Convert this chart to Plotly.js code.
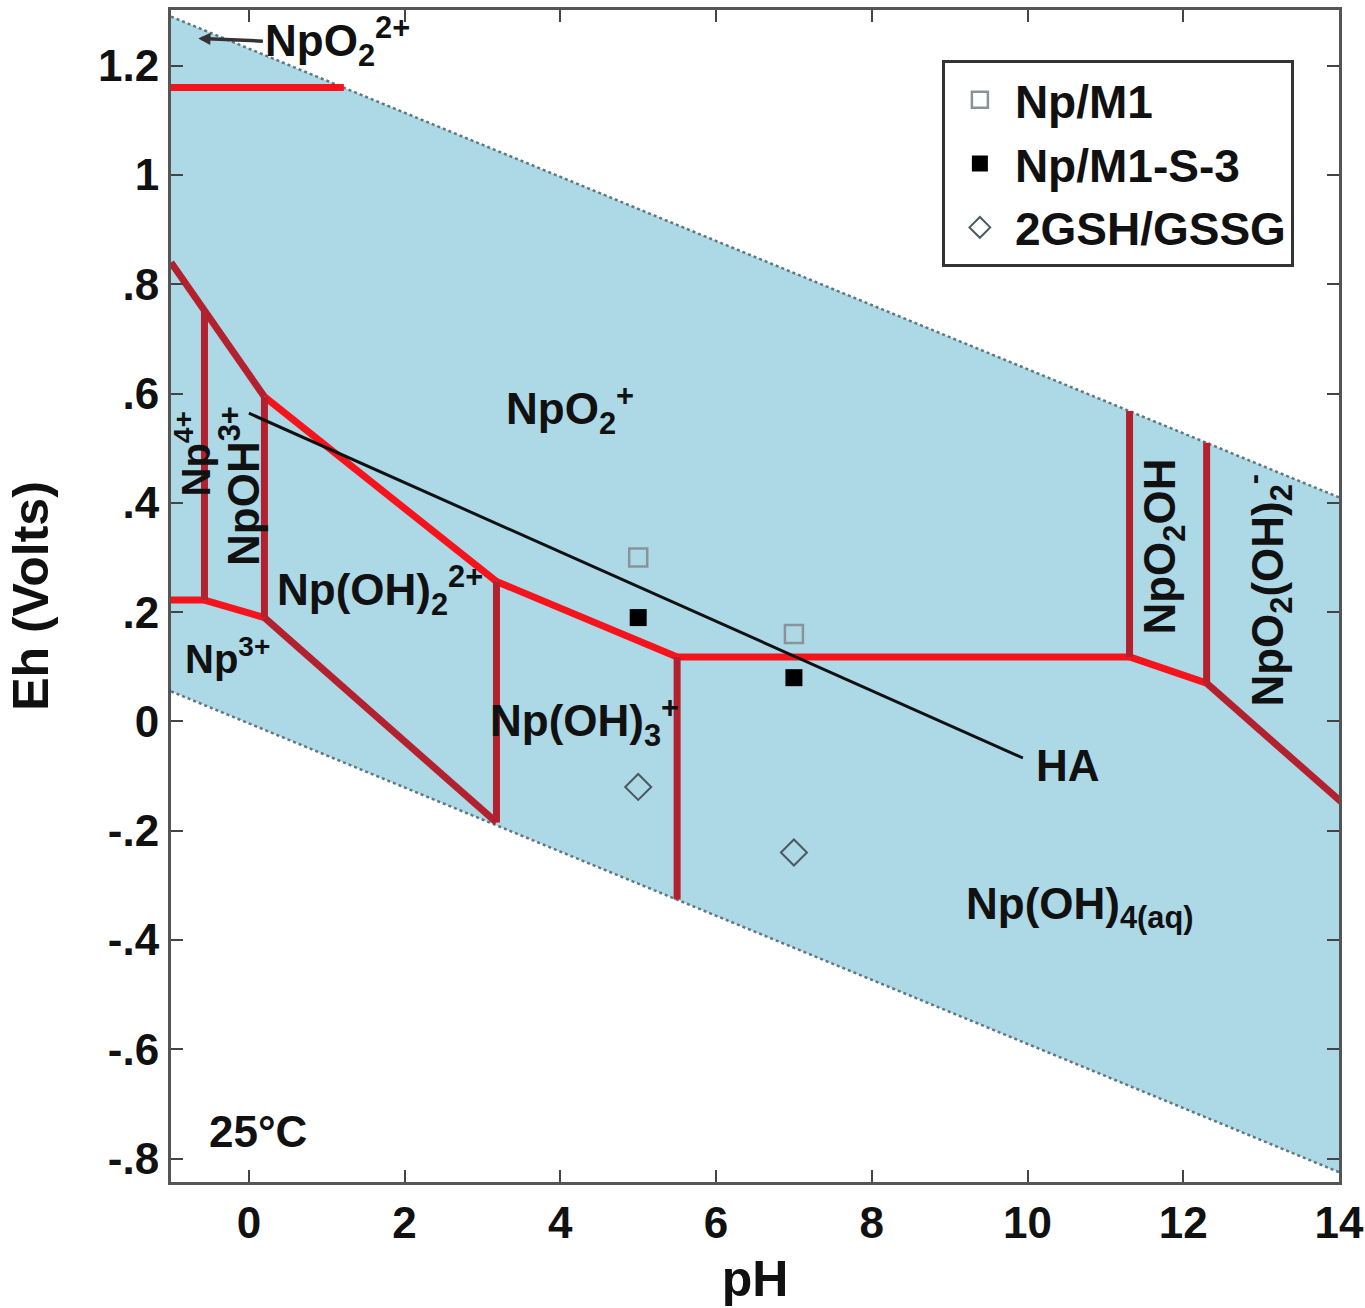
<!DOCTYPE html>
<html>
<head>
<meta charset="utf-8">
<script src="https://cdn.plot.ly/plotly-3.0.1.min.js"></script>
<style>html,body{margin:0;padding:0;background:#fff;}</style>
</head>
<body>
<div id="chart" style="width:1365px;height:1308px;"></div>
<script>
// ---- Data ----
// Water stability limits
const pHWater = [-1, 14];
const waterUpper = [1.29, 0.41];
const waterLower = [0.055, -0.825];

// Red predominance boundaries
const topPH = [-1, 1.22];
const topEh = [1.16, 1.16];
const upperPH = [-1, 0.2, 3.18, 5.5, 11.31, 12.3, 14.05];
const upperEh = [0.84, 0.594, 0.256, 0.118, 0.118, 0.07, -0.15];
const lowerPH = [-1, -0.57, 0.2, 3.18];
const lowerEh = [0.222, 0.222, 0.19, -0.185];
const vertPH = [-0.57, 0.2, 3.18, 5.5, 11.31, 12.3];
const vertBottom = [0.222, 0.19, -0.185, -0.326, 0.118, 0.07];
const vertTop = [0.752, 0.594, 0.256, 0.118, 0.568, 0.51];

// Humic acid (HA) line
const haPH = [0.0, 9.94];
const haEh = [0.564, -0.067];

// Measured samples
const samplePH = [5, 7];
const npM1 = [0.30, 0.16];
const npM1S3 = [0.19, 0.08];
const gshGssg = [-0.12, -0.24];
const seriesNames = ['Np/M1', 'Np/M1-S-3', '2GSH/GSSG'];

// Axis ticks
const xTicks = [0, 2, 4, 6, 8, 10, 12, 14];
const yTicks = [-0.8, -0.6, -0.4, -0.2, 0, 0.2, 0.4, 0.6, 0.8, 1.0, 1.2];
const yTickText = ['-.8', '-.6', '-.4', '-.2', '0', '.2', '.4', '.6', '.8', '1', '1.2'];

// ---- Styles ----
const BRIGHT = '#f5141c';
const DARK = '#b3212e';
const FONT = 'Liberation Sans, Arial, Helvetica, sans-serif';
const upperSegColors = [DARK, BRIGHT, BRIGHT, BRIGHT, BRIGHT, DARK];
const lowerSegColors = [BRIGHT, BRIGHT, DARK];

const traces = [];

// water region
traces.push({x: pHWater, y: waterLower, mode: 'lines', line: {color: '#5f7880', width: 2.5, dash: '3px,3px'}, showlegend: false, hoverinfo: 'skip'});
traces.push({x: pHWater, y: waterUpper, mode: 'lines', fill: 'tonexty', fillcolor: '#add8e6', line: {color: '#5f7880', width: 2.5, dash: '3px,3px'}, showlegend: false, hoverinfo: 'skip'});

function seg(xs, ys, color) {
  traces.push({x: xs, y: ys, mode: 'lines', line: {color: color, width: 7}, showlegend: false, hoverinfo: 'skip'});
}
seg(topPH, topEh, BRIGHT);
for (let i = 0; i < upperPH.length - 1; i++) seg([upperPH[i], upperPH[i+1]], [upperEh[i], upperEh[i+1]], upperSegColors[i]);
for (let i = 0; i < lowerPH.length - 1; i++) seg([lowerPH[i], lowerPH[i+1]], [lowerEh[i], lowerEh[i+1]], lowerSegColors[i]);
for (let i = 0; i < vertPH.length; i++) seg([vertPH[i], vertPH[i]], [vertBottom[i], vertTop[i]], DARK);

// HA line
traces.push({x: haPH, y: haEh, mode: 'lines', line: {color: '#111', width: 3}, showlegend: false, hoverinfo: 'skip'});

// samples
traces.push({x: samplePH, y: npM1, mode: 'markers', name: seriesNames[0], legendgroup: 'a',
  marker: {symbol: 'square-open', size: 18, color: '#8a9498', line: {width: 2.5, color: '#8a9498'}}});
traces.push({x: samplePH, y: npM1S3, mode: 'markers', name: seriesNames[1], legendgroup: 'b',
  marker: {symbol: 'square', size: 17, color: '#000'}});
traces.push({x: samplePH, y: gshGssg, mode: 'markers', name: seriesNames[2], legendgroup: 'c',
  marker: {symbol: 'diamond-open', size: 20, color: '#4a5a60', line: {width: 2, color: '#4a5a60'}}});

const lab = {family: FONT, size: 44, color: '#111', weight: 'bold'};
function ann(text, x, y, extra) {
  return Object.assign({text: text, x: x, y: y, xref: 'x', yref: 'y', showarrow: false, font: lab}, extra || {});
}
const annotations = [
  ann('NpO<sub>2</sub><sup>2+</sup>', -0.65, 1.25, {showarrow: true, ax: 0.18, ay: 1.245, axref: 'x', ayref: 'y', xanchor: 'left', arrowhead: 2, arrowsize: 0.7, arrowwidth: 3.5, arrowcolor: '#333', standoff: 0}),
  ann('NpO<sub>2</sub><sup>+</sup>', 4.12, 0.57),
  ann('Np<sup>4+</sup>', -0.72, 0.49, {textangle: -90, font: Object.assign({}, lab, {size: 40})}),
  ann('NpOH<sup>3+</sup>', -0.12, 0.43, {textangle: -90}),
  ann('Np(OH)<sub>2</sub><sup>2+</sup>', 1.68, 0.24),
  ann('Np<sup>3+</sup>', -0.28, 0.12, {font: Object.assign({}, lab, {size: 40})}),
  ann('Np(OH)<sub>3</sub><sup>+</sup>', 4.31, 0.0),
  ann('Np(OH)<sub>4(aq)</sub>', 10.67, -0.34),
  ann('NpO<sub>2</sub>OH', 11.74, 0.32, {textangle: -90}),
  ann('NpO<sub>2</sub>(OH)<sub>2</sub><sup>-</sup>', 13.08, 0.24, {textangle: -90}),
  ann('HA', 10.08, -0.08, {xanchor: 'left'}),
  ann('25°C', 0.12, -0.75)
];

const axisCommon = {
  showline: true, linewidth: 3, linecolor: '#555', mirror: 'ticks',
  ticks: 'inside', ticklen: 12, tickwidth: 2, tickcolor: '#444',
  showgrid: false, zeroline: false,
  tickfont: {family: FONT, size: 44, color: '#111', weight: 'bold'}
};

const layout = {
  width: 1365, height: 1308,
  margin: {l: 171, r: 26, t: 10, b: 126},
  paper_bgcolor: '#fff', plot_bgcolor: '#fff',
  showlegend: true,
  legend: {x: 0.66, y: 0.957, xanchor: 'left', yanchor: 'top', bgcolor: '#fff', bordercolor: '#333', borderwidth: 3,
    font: {family: FONT, size: 46, color: '#111', weight: 'bold'}, tracegroupgap: 1, itemsizing: 'trace', itemwidth: 60},
  xaxis: Object.assign({}, axisCommon, {range: [-1, 14], tickvals: xTicks, ticktext: xTicks.map(String),
    title: {text: 'pH', font: {family: FONT, size: 50, color: '#111', weight: 'bold'}, standoff: 16}}),
  yaxis: Object.assign({}, axisCommon, {range: [-0.843, 1.302], tickvals: yTicks, ticktext: yTickText,
    title: {text: 'Eh (Volts)', font: {family: FONT, size: 50, color: '#111', weight: 'bold'}, standoff: 34}}),
  annotations: annotations
};

Plotly.newPlot('chart', traces, layout, {displayModeBar: false, staticPlot: true});
</script>
</body>
</html>
